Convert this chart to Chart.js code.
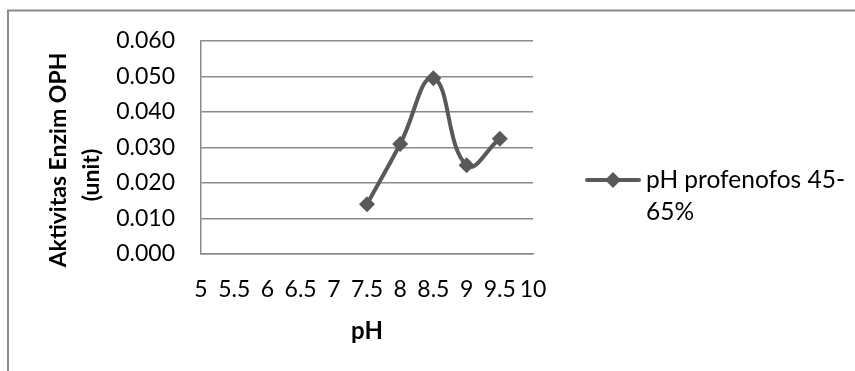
<!DOCTYPE html>
<html>
<head>
<meta charset="utf-8">
<script src="https://cdn.jsdelivr.net/npm/chart.js@4.4.0/dist/chart.umd.min.js"></script>
<style>
  body { margin: 0; background: #fff; }
  #wrap { width: 855px; height: 371px; }
</style>
</head>
<body>
<div id="wrap"><canvas id="phChart"></canvas></div>
<script>
const phLabels = ["5", "5.5", "6", "6.5", "7", "7.5", "8", "8.5", "9", "9.5", "10"];
const activity = [null, null, null, null, null, 0.014, 0.031, 0.0495, 0.025, 0.0325, null];
const yTicks = [0, 0.01, 0.02, 0.03, 0.04, 0.05, 0.06];
const seriesName = ["pH profenofos 45-", "65%"];
const yTitle = ["Aktivitas Enzim OPH", "(unit)"];

const lineColor = "#595959";
const fontFamily = "Lato, 'Open Sans', sans-serif";

// draws frame, y title and the legend box on the right
const extras = {
  id: "extras",
  afterDraw(chart) {
    const c = chart.ctx;
    c.save();
    c.strokeStyle = "#8a8a8a";
    c.lineWidth = 2;
    c.beginPath();
    c.moveTo(8, 371);
    c.lineTo(8, 10.5);
    c.lineTo(855, 10.5);
    c.stroke();

    c.fillStyle = "#000";
    c.font = "bold 23px " + fontFamily;
    c.textAlign = "center";
    c.textBaseline = "middle";
    c.save();
    c.translate(59, 160);
    c.rotate(-Math.PI / 2);
    c.fillText(yTitle[0], 0, 0);
    c.restore();
    c.save();
    c.translate(92, 175);
    c.rotate(-Math.PI / 2);
    c.fillText(yTitle[1], 0, 0);
    c.restore();

    // legend
    c.strokeStyle = lineColor;
    c.lineWidth = 4;
    c.lineCap = "round";
    c.beginPath();
    c.moveTo(587, 180);
    c.lineTo(639, 180);
    c.stroke();
    c.fillStyle = lineColor;
    c.beginPath();
    c.moveTo(613, 172);
    c.lineTo(621, 180);
    c.lineTo(613, 188);
    c.lineTo(605, 180);
    c.closePath();
    c.fill();
    c.fillStyle = "#000";
    c.font = "24.5px " + fontFamily;
    c.textAlign = "left";
    c.fillText(seriesName[0], 646, 180);
    c.fillText(seriesName[1], 646, 212);
    c.restore();
  },
};

const ctx = document.getElementById("phChart");
new Chart(ctx, {
  type: "line",
  data: {
    labels: phLabels,
    datasets: [
      {
        label: seriesName.join(""),
        data: activity,
        borderColor: lineColor,
        backgroundColor: lineColor,
        borderWidth: 4,
        tension: 0.45,
        pointStyle: "rectRot",
        pointRadius: 8,
        pointHoverRadius: 8,
        pointBorderWidth: 0,
        pointBackgroundColor: lineColor,
      },
    ],
  },
  options: {
    responsive: true,
    maintainAspectRatio: false,
    animation: false,
    layout: {
      padding: { left: 0, top: 41, right: 322, bottom: 0 },
    },
    plugins: {
      legend: { display: false },
      tooltip: { enabled: false },
    },
    scales: {
      x: {
        offset: false,
        grid: { display: false, drawTicks: false },
        border: { display: true, color: "#8a8a8a", width: 1.5 },
        ticks: {
          color: "#000",
          padding: 22,
          maxRotation: 0,
          autoSkip: false,
          font: { family: fontFamily, size: 23 },
        },
        title: {
          display: true,
          text: "pH",
          color: "#000",
          font: { family: fontFamily, size: 24, weight: "bold" },
          padding: { top: 0, bottom: 25 },
        },
        afterFit(scale) {
          scale.height = 117;
        },
      },
      y: {
        min: 0,
        max: 0.06,
        afterBuildTicks(scale) {
          scale.ticks = yTicks.map((v) => ({ value: v }));
        },
        grid: { color: "#8a8a8a", lineWidth: 1.5, drawTicks: false },
        border: { display: true, color: "#8a8a8a", width: 1.5 },
        ticks: {
          color: "#000",
          padding: 26,
          font: { family: fontFamily, size: 23 },
          callback: (v) => v.toFixed(3),
        },
        afterFit(scale) {
          scale.width = 201;
        },
      },
    },
  },
  plugins: [extras],
});
</script>
</body>
</html>
